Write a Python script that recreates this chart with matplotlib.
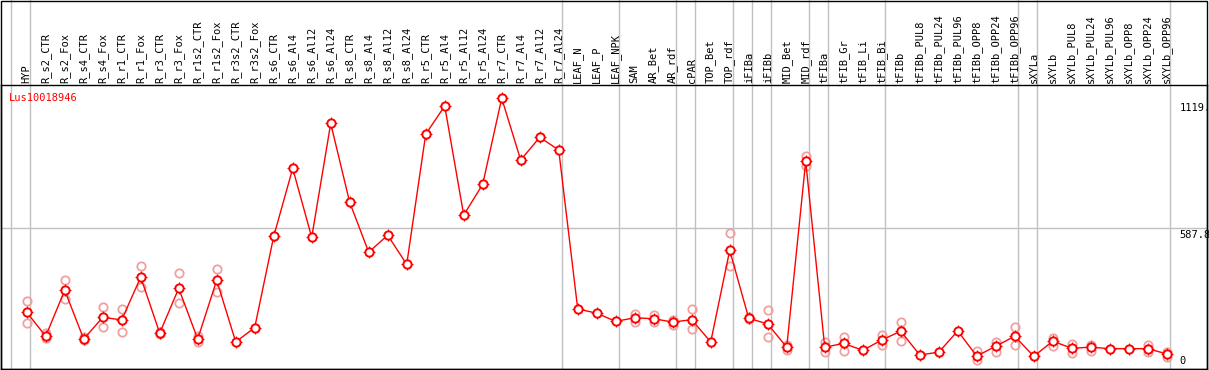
import numpy as np
import matplotlib
matplotlib.use('Agg')
import matplotlib.pyplot as plt
from matplotlib.patches import Rectangle

# sample names (x categories)
samples = ['HYP', 'R_s2_CTR', 'R_s2_Fox', 'R_s4_CTR', 'R_s4_Fox', 'R_r1_CTR', 'R_r1_Fox',
           'R_r3_CTR', 'R_r3_Fox', 'R_r1s2_CTR', 'R_r1s2_Fox', 'R_r3s2_CTR', 'R_r3s2_Fox',
           'R_s6_CTR', 'R_s6_Al4', 'R_s6_Al12', 'R_s6_Al24', 'R_s8_CTR', 'R_s8_Al4',
           'R_s8_Al12', 'R_s8_Al24', 'R_r5_CTR', 'R_r5_Al4', 'R_r5_Al12', 'R_r5_Al24',
           'R_r7_CTR', 'R_r7_Al4', 'R_r7_Al12', 'R_r7_Al24', 'LEAF_N', 'LEAF_P', 'LEAF_NPK',
           'SAM', 'AR_Bet', 'AR_rdf', 'cPAR', 'TOP_Bet', 'TOP_rdf', 'iFIBa', 'iFIBb',
           'MID_Bet', 'MID_rdf', 'tFIBa', 'tFIB_Gr', 'tFIB_Li', 'tFIB_Bi', 'tFIBb',
           'tFIBb_PUL8', 'tFIBb_PUL24', 'tFIBb_PUL96', 'tFIBb_OPP8', 'tFIBb_OPP24',
           'tFIBb_OPP96', 'sXYLa', 'sXYLb', 'sXYLb_PUL8', 'sXYLb_PUL24', 'sXYLb_PUL96',
           'sXYLb_OPP8', 'sXYLb_OPP24', 'sXYLb_OPP96']

# mean expression per sample
means = [237, 137, 329, 125, 216, 205, 384, 150, 337, 125, 371, 113, 173,
         554, 838, 550, 1026, 696, 488, 559, 437, 981, 1099, 643, 772,
         1131, 873, 968, 915, 251, 233, 199,
         214, 210, 196, 206, 113, 496, 212, 188,
         91, 868, 91, 107, 78, 121, 158,
         59, 70, 159, 54, 95, 137,
         53, 116, 87, 91, 85, 85, 85, 63]

nan = np.nan
# individual replicates (nan where not drawn)
rep_a = [284, 149, 371, 132, 258, 249, 430, 155, 400, 138, 417, nan, nan,
         nan, nan, nan, nan, nan, nan, nan, nan, nan, nan, nan, nan,
         nan, nan, nan, nan, nan, nan, nan,
         229, 224, 205, 249, nan, 567, 217, 245,
         100, 890, 113, 135, nan, 140, 195,
         nan, nan, nan, 77, 114, 176,
         nan, 130, 104, 100, nan, nan, 99, 72]
rep_b = [191, 128, 291, 121, 174, 153, 343, 146, 277, 112, 322, nan, nan,
         nan, nan, nan, nan, nan, nan, nan, nan, nan, nan, nan, nan,
         nan, nan, nan, nan, nan, nan, nan,
         198, 196, 184, 166, nan, 430, 207, 132,
         79, 848, 72, 75, nan, 102, 119,
         nan, nan, nan, 38, 72, 99,
         nan, 97, 66, 77, nan, nan, 72, 51]

# samples followed by a separator line (-1 = left edge)
separators = [-1, 0, 28, 31, 34, 35, 37, 38, 39, 41, 42, 45, 52, 53, 60]

gene = 'Lus10018946'
ylabels = [1119, 587.8, 0]

W, H = 1209, 370
fig = plt.figure(figsize=(W / 100, H / 100), dpi=100)
ax = fig.add_axes([1 / W, 1 / H, 1206 / W, 284 / H])

x = np.arange(len(samples))
ax.set_xlim(-1.353, 62.12)
ax.set_ylim(0, 1186.5)

for s in separators:
    ax.axvline(s + 0.19, ymin=0, ymax=369 / 284, color='#c0c0c0', lw=1,
               clip_on=False, zorder=0)
ax.axhline(587.8, color='#c0c0c0', lw=1, zorder=0)

ax.plot(x, rep_a, ls='none', marker='o', mfc='none', mec='#f0a0a0', ms=6, mew=1.3, zorder=2)
ax.plot(x, rep_b, ls='none', marker='o', mfc='none', mec='#f0a0a0', ms=6, mew=1.3, zorder=2)
ax.plot(x, means, color='red', lw=1, zorder=3)
ax.plot(x, means, ls='none', marker='+', mec='red', ms=9, mew=0.8, zorder=3)
ax.plot(x, means, ls='none', marker='o', mfc='white', mec='red', ms=6, mew=1.4, zorder=4)

ax.set_xticks(x)
ax.set_xticklabels(samples, family='DejaVu Sans Mono', fontsize=7.5)
ax.xaxis.tick_top()
ax.tick_params(axis='x', length=0, pad=1.5, labelrotation=90)
ax.set_yticks([])
for sp in ax.spines.values():
    sp.set_linewidth(1)
    sp.set_color('black')

ax.text(0.0069, 0.972, gene, transform=ax.transAxes, color='red', ha='left', va='top',
        family='DejaVu Sans Mono', fontsize=7.5)

trans = ax.get_yaxis_transform()
for v in ylabels:
    if v == 0:
        ax.annotate(str(v), xy=(0.977, v), xycoords=trans, xytext=(0, 2),
                    textcoords='offset points', ha='left', va='bottom',
                    family='DejaVu Sans Mono', fontsize=7.5, annotation_clip=False)
    else:
        t = ax.annotate(f'{v}' if v != 1119 else '1119.', xy=(0.977, v), xycoords=trans,
                        xytext=(0, -1), textcoords='offset points', ha='left', va='top',
                        family='DejaVu Sans Mono', fontsize=7.5, annotation_clip=False)
        t.set_clip_on(True)

fig.add_artist(Rectangle((1 / W, 1 / H), 1206 / W, 368.5 / H, fill=False,
                         edgecolor='black', lw=1, transform=fig.transFigure))

plt.savefig('out.png', dpi=100)
